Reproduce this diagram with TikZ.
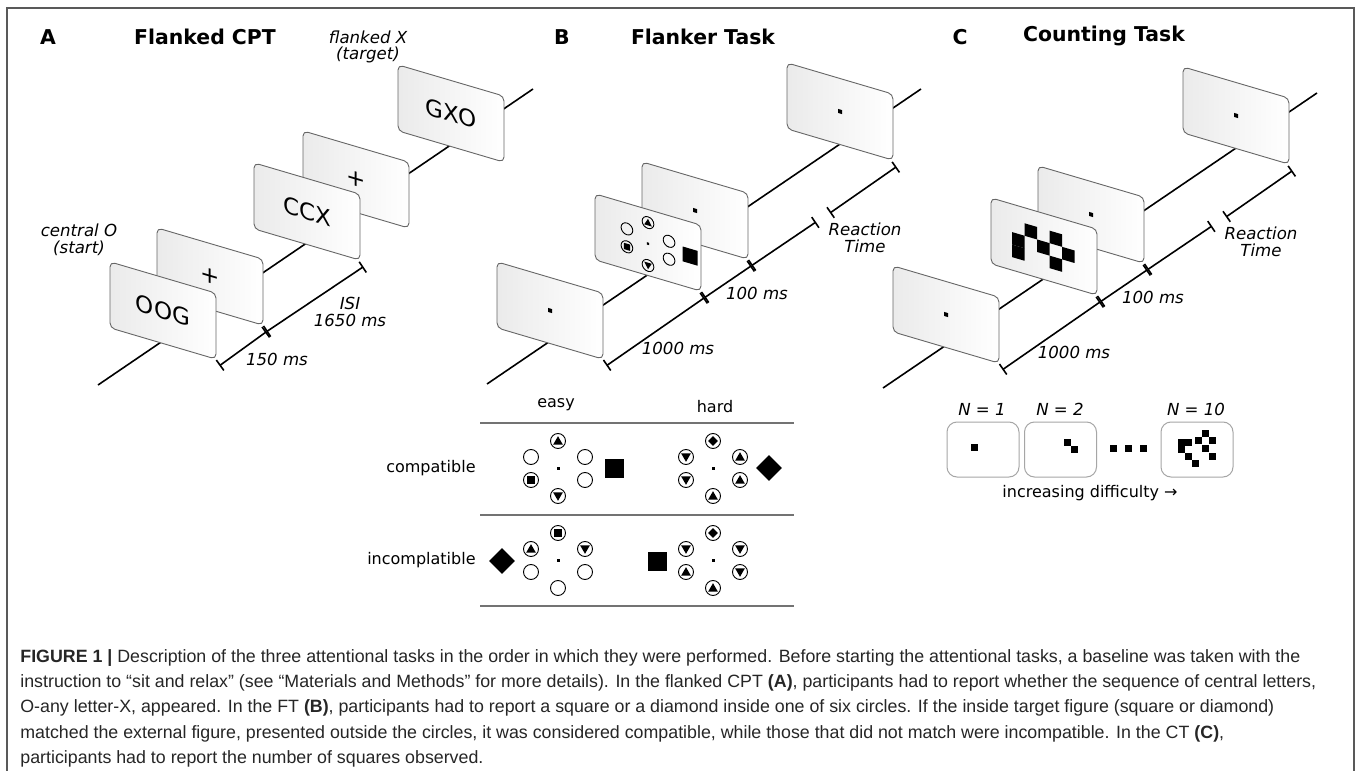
\documentclass[tikz,border=0pt]{standalone}
\usepackage{fontspec}
\setmainfont{DejaVu Sans}
\newfontfamily\capfont{Liberation Sans}
\usetikzlibrary{calc,arrows.meta,shapes.geometric}

\newcommand{\fixdot}{\rule{2pt}{2pt}}
% six flanker circles round a fixation point: prefix, x, y, top, upper left, lower left, upper right, lower right, bottom
\newcommand{\flankset}[9]{%
  \node[fixpt] (#1c) at ({#2},{#3}) {};
  \node[ring] (#1t) at ({#2},{#3-27}) {}; \node[#4] (#1ts) at (#1t) {};
  \node[ring] (#1a) at ({#2-27},{#3-11}) {}; \node[#5] (#1as) at (#1a) {};
  \node[ring] (#1b) at ({#2-27},{#3+12}) {}; \node[#6] (#1bs) at (#1b) {};
  \node[ring] (#1d) at ({#2+27},{#3-11}) {}; \node[#7] (#1ds) at (#1d) {};
  \node[ring] (#1e) at ({#2+27},{#3+12}) {}; \node[#8] (#1es) at (#1e) {};
  \node[ring] (#1f) at ({#2},{#3+28}) {}; \node[#9] (#1fs) at (#1f) {};
}

\tikzset{
  card/.style={draw=black!60, line width=0.45pt, rounded corners=2.5pt,
    minimum width=53pt, minimum height=33pt, inner sep=0pt,
    left color=black!8, right color=white, yslant=-0.295,
    font=\fontsize{11.5}{12}\selectfont},
  timeaxis/.style={line width=0.8pt},
  timebar/.style={line width=0.8pt, {Bar[width=6.4pt]}-{Bar[width=6.4pt]}},
  paneltitle/.style={font=\fontsize{10.2}{12}\selectfont\bfseries, inner sep=0pt},
  tlabel/.style={font=\fontsize{8.3}{8.3}\selectfont\itshape, align=center, inner sep=0pt},
  hlabel/.style={font=\fontsize{8}{9}\selectfont, inner sep=0pt},
  tabrule/.style={draw=black!55, line width=0.75pt},
  ring/.style={circle, draw, line width=0.45pt, minimum size=7.5pt, inner sep=0pt},
  fixpt/.style={fill, minimum size=1.5pt, inner sep=0pt},
  symup/.style={regular polygon, regular polygon sides=3, fill, minimum size=5.6pt, inner sep=0pt, outer sep=0pt, yshift=-0.4pt},
  symdn/.style={regular polygon, regular polygon sides=3, shape border rotate=180, fill, minimum size=5.6pt, inner sep=0pt, outer sep=0pt, yshift=0.4pt},
  symsq/.style={rectangle, fill, minimum size=4pt, inner sep=0pt},
  symdm/.style={diamond, fill, minimum size=5pt, inner sep=0pt},
  symno/.style={inner sep=0pt, minimum size=0pt},
  bigsq/.style={rectangle, fill, minimum size=9.5pt, inner sep=0pt},
  bigdm/.style={diamond, fill, minimum size=13pt, inner sep=0pt},
  cbox/.style={draw=black!35, line width=0.5pt, rounded corners=5pt, minimum width=36pt, minimum height=27.5pt},
  outerframe/.style={draw=black!65, line width=1pt},
  captxt/.style={font=\capfont\fontsize{8.9}{10}\selectfont, text=black!85, inner sep=0pt, anchor=base west},
}

\begin{document}
\begin{tikzpicture}[x=0.5pt, y=-0.5pt]
  \useasboundingbox (0,0) rectangle (1357,771);
  \fill[white] (0,0) rectangle (1357,771);
  \draw[outerframe] (7,780) -- (7,8) -- (1354,8) -- (1354,780);

  % panel A
  \node[paneltitle] (la) at (48,37) {A};
  \node[paneltitle] (ta) at (205,37) {Flanked CPT};
  \coordinate (aS) at (98,385);
  \coordinate (aE) at (533,89);
  \draw[timeaxis] (aS) -- (aE);
  \node[card] (a5) at (451,113.5) {GXO};
  \node[card] (a4) at (356,179.5) {+};
  \node[card] (a3) at (307,211.5) {CCX};
  \node[card] (a2) at (210,276.5) {+};
  \node[card] (a1) at (163,310.5) {OOG};
  \foreach \k in {1,2,3}
    \coordinate (at\k) at ([shift={(3,6)}]a\k.south east);
  \draw[timebar] (at1) -- (at2);
  \draw[timebar] (at2) -- (at3);
  \node[tlabel] (a150) at (277,359) {150 ms};
  \node[tlabel] (aisi) at (350,312) {ISI\\1650 ms};
  \node[tlabel] (astart) at (79,240) {central O\\(start)};
  \node[tlabel] (atarget) at (368,47) {flanked X\\(target)};

  % panels B and C share the same time line
  \node[paneltitle] (lb) at (562,37) {B};
  \node[paneltitle] (tb) at (703,37) {Flanker Task};
  \node[paneltitle] (lc) at (960,37) {C};
  \node[paneltitle] (tc) at (1104,36) {Counting Task};
  \foreach \p/\sx/\sy in {b/0/0, c/396/4} {
    \begin{scope}[shift={(\sx,\sy)}]
      \coordinate (\p S) at (487,384);
      \coordinate (\p E) at (921,89);
      \draw[timeaxis] (\p S) -- (\p E);
      \node[card] (\p4) at (840,111.5) {\fixdot};
      \node[card] (\p3) at (695,210.5) {\fixdot};
      \node[card] (\p2) at (648,242.5) {};
      \node[card] (\p1) at (550,310.5) {\fixdot};
      \foreach \k in {1,...,4}
        \coordinate (\p t\k) at ([shift={(3,6)}]\p\k.south east);
      \coordinate (\p R1) at (816,222);
      \coordinate (\p R2) at (830,213);
      \draw[timebar] (\p t1) -- (\p t2);
      \draw[timebar] (\p t2) -- (\p t3);
      \draw[timebar] (\p t3) -- (\p R1);
      \draw[timebar] (\p R2) -- (\p t4);
      \node[tlabel] (\p L1) at (678,348) {1000 ms};
      \node[tlabel] (\p L2) at (757,293) {100 ms};
      \node[tlabel] (\p L3) at (865,238) {Reaction\\Time};
    \end{scope}
  }

  % flanker stimulus on the second card
  \begin{scope}[shift={(b2.center)}, yslant=-0.295, scale=0.78, transform shape]
    \flankset{f}{0}{1.5}{symup}{symno}{symsq}{symno}{symno}{symdn}
    \node[bigsq] (fx) at (54,1.5) {};
  \end{scope}

  % squares to count on the second card
  \begin{scope}[shift={(c2.center)}, yslant=-0.295]
    \foreach \i/\j in {0/0,0/1,1/-1,2/0,3/-1,3/1,4/0}
      \fill ({-32+12.5*\i},{-5+12.5*\j}) rectangle ++(12.5,12.5);
  \end{scope}

  % easy / hard table
  \node[hlabel] (heasy) at (556,405) {easy};
  \node[hlabel] (hhard) at (715,407) {hard};
  \node[hlabel, anchor=east] (rcomp) at (476,468) {compatible};
  \node[hlabel, anchor=east] (rinc) at (476,560) {incomplatible};
  \foreach \r/\y in {0/423,1/515,2/606} {
    \coordinate (r\r w) at (480,\y);
    \coordinate (r\r e) at (794,\y);
    \draw[tabrule] (r\r w) -- (r\r e);
  }
  \flankset{ec}{558}{468}{symup}{symno}{symsq}{symno}{symno}{symdn}
  \node[bigsq] (ecx) at (614,468) {};
  \flankset{hc}{713}{468}{symdm}{symdn}{symdn}{symup}{symup}{symup}
  \node[bigdm] (hcx) at (769,468) {};
  \flankset{ei}{558}{560}{symsq}{symup}{symno}{symdn}{symno}{symno}
  \node[bigdm] (eix) at (502,561) {};
  \flankset{hi}{713}{560}{symdm}{symdn}{symup}{symdn}{symdn}{symup}
  \node[bigsq] (hix) at (657,561) {};

  % difficulty levels of the counting task
  \node[tlabel] (n1) at (982,409) {N = 1};
  \node[tlabel] (n2) at (1060,409) {N = 2};
  \node[tlabel] (n10) at (1196,409) {N = 10};
  \node[cbox] (k1) at (983,449.5) {};
  \node[cbox] (k2) at (1060.5,449.5) {};
  \node[cbox] (k10) at (1197,449.5) {};
  \foreach \x/\y in {974/447, 1067/442, 1074/449, 1113/448, 1128/448, 1143/448,
      1181/442, 1188/442, 1181/449, 1188/456.5, 1195/463.5,
      1198/440, 1205.5/433, 1212.5/440.5, 1205.5/448, 1212.5/456}
    \fill ({\x-3.5},{\y-3.5}) rectangle ++(7,7);
  \node[hlabel] (kdiff) at (1090,493) {increasing difficulty →};

  % caption
  \node[captxt] (cap1) at (20,662) {\textbf{FIGURE 1 |} Description of the three attentional tasks in the order in which they were performed. Before starting the attentional tasks, a baseline was taken with the};
  \node[captxt] (cap2) at (20,687.4) {instruction to “sit and relax” (see “Materials and Methods” for more details). In the flanked CPT \textbf{(A)}, participants had to report whether the sequence of central letters,};
  \node[captxt] (cap3) at (20,712.8) {O-any letter-X, appeared. In the FT \textbf{(B)}, participants had to report a square or a diamond inside one of six circles. If the inside target figure (square or diamond)};
  \node[captxt] (cap4) at (20,738.2) {matched the external figure, presented outside the circles, it was considered compatible, while those that did not match were incompatible. In the CT \textbf{(C)},};
  \node[captxt] (cap5) at (20,763.6) {participants had to report the number of squares observed.};
\end{tikzpicture}
\end{document}
